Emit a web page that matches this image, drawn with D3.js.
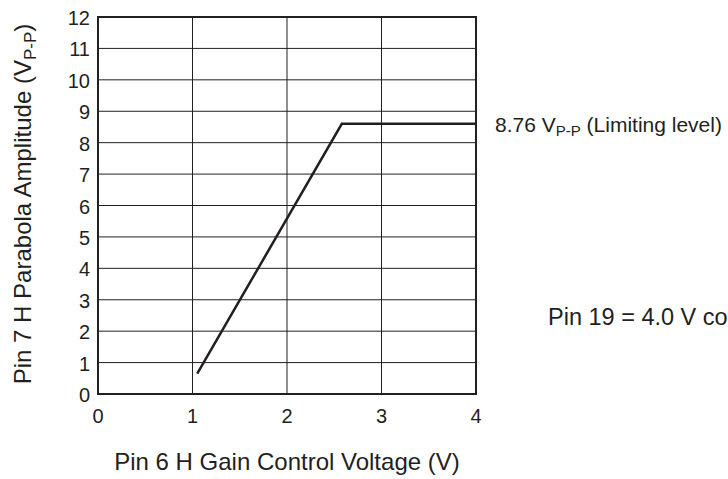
<!DOCTYPE html>
<html>
<head>
<meta charset="utf-8">
<script src="https://cdn.jsdelivr.net/npm/d3@7"></script>
<style>
  body { margin: 0; background: #fff; overflow: hidden; }
  text { font-family: "Liberation Sans", Arial, sans-serif; fill: #231f20; }
</style>
</head>
<body>
<div id="chart"></div>
<script>
// data
var xTicks = [0, 1, 2, 3, 4];
var yTicks = [0, 1, 2, 3, 4, 5, 6, 7, 8, 9, 10, 11, 12];
var curveX = [1.05, 2.58, 4];
var curveY = [0.65, 8.6, 8.6];
var xTitle = "Pin 6 H Gain Control Voltage (V)";
var yTitle = ["Pin 7 H Parabola Amplitude (V", "P-P", ")"];
var limitNote = ["8.76 V", "P-P", " (Limiting level)"];
var condNote = "Pin 19 = 4.0 V constant";

var width = 728, height = 479;
var margin = { left: 98, right: 252, top: 17, bottom: 85 };
var w = width - margin.left - margin.right;
var h = height - margin.top - margin.bottom;

var svg = d3.select("#chart")
	.append("svg")
	.attr("width", width)
	.attr("height", height);
var g = svg.append("g")
	.attr("transform", "translate(" + margin.left + "," + margin.top + ")");

var x = d3.scaleLinear().domain([0, 4]).range([0, w]);
var y = d3.scaleLinear().domain([0, 12]).range([h, 0]);

// grid
g.selectAll("line.gx")
	.data(xTicks.slice(1, -1))
	.enter().append("line")
	.attr("x1", function(d) { return x(d); })
	.attr("x2", function(d) { return x(d); })
	.attr("y1", 0).attr("y2", h)
	.attr("stroke", "#231f20").attr("stroke-width", 1);
g.selectAll("line.gy")
	.data(yTicks.slice(1, -1))
	.enter().append("line")
	.attr("y1", function(d) { return y(d); })
	.attr("y2", function(d) { return y(d); })
	.attr("x1", 0).attr("x2", w)
	.attr("stroke", "#231f20").attr("stroke-width", 1);

// frame
g.append("rect")
	.attr("width", w).attr("height", h)
	.attr("fill", "none")
	.attr("stroke", "#231f20").attr("stroke-width", 2);

// tick labels
g.selectAll("text.xt")
	.data(xTicks)
	.enter().append("text")
	.attr("x", function(d) { return x(d); })
	.attr("y", h + 29)
	.attr("text-anchor", "middle")
	.style("font-size", "20px")
	.text(function(d) { return d; });
g.selectAll("text.yt")
	.data(yTicks)
	.enter().append("text")
	.attr("x", -8)
	.attr("y", function(d) { return y(d) + 8; })
	.attr("text-anchor", "end")
	.style("font-size", "20px")
	.text(function(d) { return d; });

// curve
var pts = curveX.map(function(d, i) { return [d, curveY[i]]; });
g.append("path")
	.datum(pts)
	.attr("fill", "none")
	.attr("stroke", "#231f20")
	.attr("stroke-width", 2.5)
	.attr("d", d3.line()
		.x(function(d) { return x(d[0]); })
		.y(function(d) { return y(d[1]); }));

// titles
svg.append("text")
	.attr("x", margin.left + w / 2)
	.attr("y", 470)
	.attr("text-anchor", "middle")
	.style("font-size", "24px")
	.text(xTitle);

var yt = svg.append("text")
	.attr("transform", "translate(31,204) rotate(-90)")
	.attr("text-anchor", "middle")
	.style("font-size", "24px");
yt.append("tspan").text(yTitle[0]);
yt.append("tspan").attr("dy", 5).style("font-size", "17px").text(yTitle[1]);
yt.append("tspan").attr("dy", -5).text(yTitle[2]);

// notes
var ln = svg.append("text")
	.attr("x", 495)
	.attr("y", 132)
	.style("font-size", "21px");
ln.append("tspan").text(limitNote[0]);
ln.append("tspan").attr("dy", 4).style("font-size", "15px").text(limitNote[1]);
ln.append("tspan").attr("dy", -4).text(limitNote[2]);

// runs past the right edge in the reference too
svg.append("text")
	.attr("x", 548)
	.attr("y", 325)
	.style("font-size", "23.5px")
	.text(condNote);
</script>
</body>
</html>
